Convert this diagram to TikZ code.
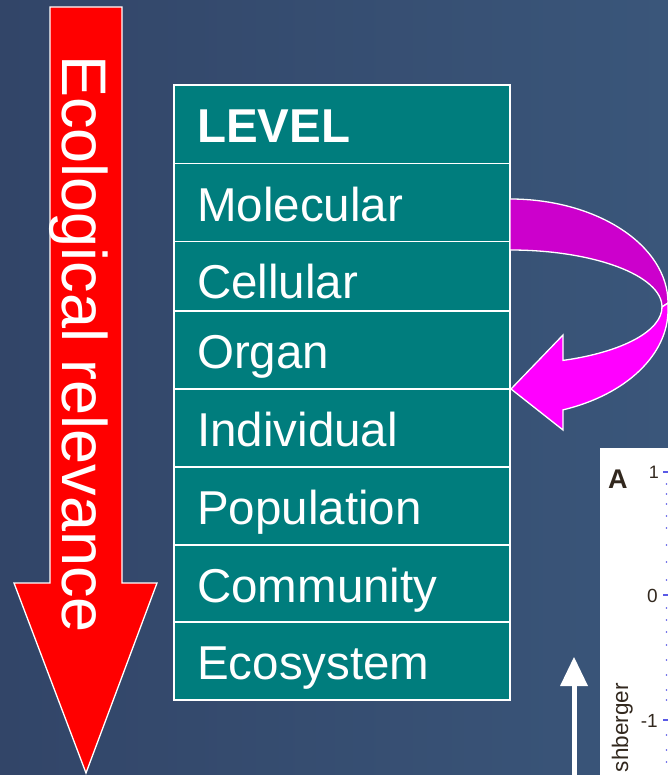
\documentclass[tikz,border=0pt]{standalone}
\usepackage{fontspec}
\setmainfont{Liberation Sans}
\definecolor{bgL}{RGB}{50,69,104}
\definecolor{bgR}{RGB}{58,86,122}
\definecolor{tealc}{RGB}{0,125,125}
\definecolor{magD}{RGB}{204,0,204}
\definecolor{magL}{RGB}{255,0,255}
\definecolor{inkc}{RGB}{50,40,30}
\definecolor{dotc}{RGB}{90,90,230}
\begin{document}
\begin{tikzpicture}[x=1pt,y=-1pt,
  lvl/.style={anchor=base west, inner sep=0pt, text=white, font=\fontsize{47.5}{50}\selectfont},
  cellbox/.style={fill=tealc, draw=white, line width=1.8pt},
  outl/.style={draw=white, line width=1.3pt},
  graphtxt/.style={inner sep=0pt, text=inkc}]
\useasboundingbox (0,0) rectangle (668,775);
\clip (0,0) rectangle (668,775);
% background
\shade[left color=bgL, right color=bgR] (0,0) rectangle (668,775);
% red arrow
\fill[red, outl] (50,7) -- (122,7) -- (122,583) -- (157,583) -- (86,773) -- (14,583) -- (50,583) -- cycle;
\node[rotate=-90, anchor=base west, inner sep=0pt, text=white, font=\fontsize{63}{63}\selectfont] (eco) at (62,55) {Ecological relevance};
% table
\draw[cellbox] (174,85) rectangle (510,163.5);
\draw[cellbox] (174,163.5) rectangle (510,241.5);
\draw[cellbox] (174,241.5) rectangle (510,311);
\draw[cellbox] (174,311) rectangle (510,389);
\draw[cellbox] (174,389) rectangle (510,467);
\draw[cellbox] (174,467) rectangle (510,545);
\draw[cellbox] (174,545) rectangle (510,622);
\draw[cellbox] (174,622) rectangle (510,700);
\node[lvl, font=\bfseries\fontsize{47.5}{50}\selectfont] (level) at (197,143) {LEVEL};
\node[lvl] (mol) at (197,221.5) {Molecular};
\node[lvl] (cell) at (197,298) {Cellular};
\node[lvl] (org) at (197,368.5) {Organ};
\node[lvl] (ind) at (197,446.5) {Individual};
\node[lvl] (pop) at (197,524.5) {Population};
\node[lvl] (com) at (197,602) {Community};
\node[lvl] (eco2) at (197,679.5) {Ecosystem};
% magenta curved arrow
\fill[magD, outl] (510,199) arc[start angle=-90, end angle=0, x radius=158, y radius=104]
  -- (662,307) arc[start angle=0, end angle=-90, x radius=152, y radius=57] -- cycle;
\fill[magL, outl] (668,303) -- (668,310) arc[start angle=0, end angle=70.4, x radius=158, y radius=106]
  -- (563,430) -- (511,389) -- (563,335) -- (563,360.4)
  arc[start angle=69.6, end angle=0, x radius=152, y radius=57] -- cycle;
% graph fragment
\fill[white] (600,448) rectangle (680,780);
\node[graphtxt, anchor=base west, font=\bfseries\fontsize{27}{27}\selectfont] (A) at (608,488) {A};
\node[graphtxt, anchor=base east, font=\fontsize{18}{18}\selectfont] (one) at (659,478) {1};
\node[graphtxt, anchor=base east, font=\fontsize{19}{19}\selectfont] (zero) at (658,602) {0};
\node[graphtxt, anchor=base east, font=\fontsize{19}{19}\selectfont] (mone) at (658,727) {-1};
\node[graphtxt, rotate=90, anchor=base east, font=\fontsize{22.5}{23}\selectfont] (name) at (628,683) {shberger};
\foreach \yy in {472,595,720} \draw[dotc, line width=1.2pt] (663,\yy) -- (668,\yy);
\foreach \yy in {484,494,504,516,528,545,562,580,608,620,632,645,660,675,690,700,735,750,762} \fill[dotc] (666.5,\yy) circle (0.9);
% white up arrow
\fill[white] (571.5,686) rectangle (576.5,780);
\fill[white] (560,686) -- (588,686) -- (574,657) -- cycle;
\end{tikzpicture}
\end{document}
